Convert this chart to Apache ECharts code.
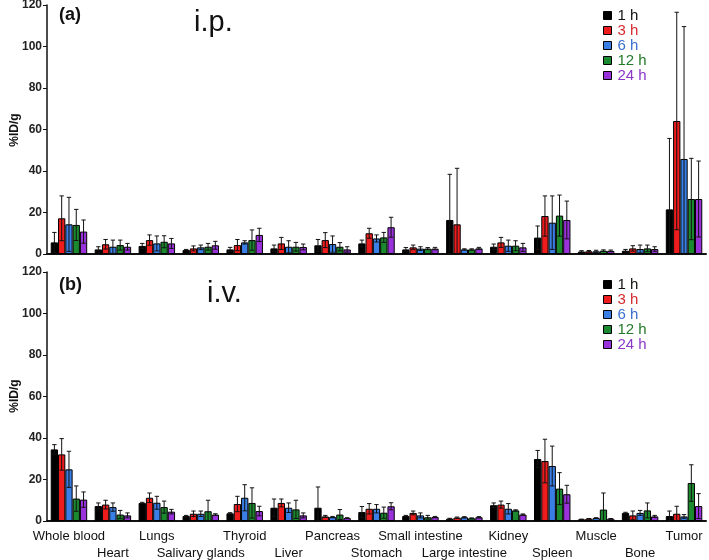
<!DOCTYPE html>
<html><head><meta charset="utf-8">
<script src="https://cdn.jsdelivr.net/npm/echarts@6/dist/echarts.min.js"></script>
<style>html,body{margin:0;padding:0;background:#fff}#c{width:709px;height:560px}</style>
</head><body><div id="c"></div>
<script>
const categories = ['Whole blood','Heart','Lungs','Salivary glands','Thyroid','Liver','Pancreas','Stomach','Small intestine','Large intestine','Kidney','Spleen','Muscle','Bone','Tumor'];
const seriesNames = ['1 h','3 h','6 h','12 h','24 h'];
const yTicks = [0,20,40,60,80,100,120];

const ip1h  = [5.6,2.2,3.9,1.9,2.2,2.7,4.2,5.1,2.2,16.4,3.5,7.9,1.2,1.6,21.5];
const ip3h  = [17.2,4.7,6.7,2.7,4.3,5.1,6.7,10,3.2,14.3,5.6,18.3,1.3,2.7,64.1];
const ip6h  = [14.3,3.5,5.1,3.2,5.6,3.5,4.8,7.5,2.6,2.2,4,15.1,1.3,2.4,45.8];
const ip12h = [14,4.3,5.9,3.5,6.7,3.5,3.5,8,2.6,2.2,4,18.5,1.6,2.7,26.5];
const ip24h = [10.8,3.5,5.1,4.2,9.2,3.4,2.2,12.9,2.6,2.7,3.2,16.4,1.5,2.4,26.5];
const ipSd1h  = [4.8,1.3,1.2,0.3,1,1.6,2.8,1.6,0.9,22,1.3,5.6,0.4,0.6,34.2];
const ipSd3h  = [10.8,2.3,2.5,1.2,2.7,2.9,3.6,2.4,1.1,27,2.4,9.7,0.4,1.3,52.4];
const ipSd6h  = [13,3.2,3.6,1.1,0.8,2.9,3.9,1.7,0.9,0.3,2.7,12.9,0.5,1.9,63.8];
const ipSd12h = [7.5,2.4,2.9,1.6,4.9,2.1,2,2.4,0.5,0.3,2.4,9.9,0.4,1.6,19.6];
const ipSd24h = [5.6,1.6,2.4,1.9,3.2,1.4,1.3,4.8,0.6,0.5,1.9,9.1,0.4,1.1,18.3];

const iv1h  = [34.5,7.2,8.7,2.4,3.7,6.4,6.4,4.3,2.4,1.1,7.6,29.9,0.8,3.9,2.4];
const iv3h  = [32.1,7.9,11.2,3.5,8.2,8.7,2.2,5.9,3.9,1.6,7.9,28.9,1.1,2.7,3.5];
const iv6h  = [24.9,6.7,8.8,3.5,11.2,6.4,1.9,5.9,2.7,1.8,5.9,26.5,1.4,3.9,2.2];
const iv12h = [10.8,3.1,6.7,4.7,8.7,5.6,3.1,4,1.8,1.3,5.1,15.6,5.5,5.1,18.3];
const iv24h = [10.3,2.7,4.5,3.1,4.8,2.7,1.4,7.1,1.9,1.8,3.1,12.9,1.1,2.2,7.2];
const ivSd1h  = [2.3,1.5,0.3,0.3,0.3,4.2,10,2.7,0.3,0.2,1.1,4.1,0.1,0.3,2.4];
const ivSd3h  = [7.6,2.1,2.3,1.3,3.7,1.9,0.5,2.5,0.9,0.3,1.7,10.5,0.1,2.1,3.6];
const ivSd6h  = [8.7,2,3.1,1.3,6.3,2.3,0.3,2,1.2,0.3,2.5,9.6,0.2,1.2,0.9];
const ivSd12h = [6.1,2,2.9,5.3,7.3,4.4,2.4,2.7,0.9,0.2,0.3,7.7,8,3.6,8.8];
const ivSd24h = [3.7,1.2,1.1,0.4,2.3,1.2,0.2,1.7,0.3,0.3,0.3,4.3,0.1,0.5,6];

const barColors = ['#000000','#ee1c1c','#3a7fe6','#1b8a2e','#9a32dc'];
const textColors = ['#111111','#d42a2e','#3a6fd2','#227a28','#8a38c8'];

const ipMeans = [ip1h, ip3h, ip6h, ip12h, ip24h];
const ipSds = [ipSd1h, ipSd3h, ipSd6h, ipSd12h, ipSd24h];
const ivMeans = [iv1h, iv3h, iv6h, iv12h, iv24h];
const ivSds = [ivSd1h, ivSd3h, ivSd6h, ivSd12h, ivSd24h];

const GAP = 0.17;
const FONT = 'Liberation Sans, Arial, sans-serif';

function errSeries(means, sds, si, axisIdx) {
  return {
    type: 'custom', xAxisIndex: axisIdx, yAxisIndex: axisIdx, z: 10, silent: true,
    data: means.map((m, i) => [i, m, sds[i]]),
    encode: { x: 0, y: 1 },
    renderItem: function (params, api) {
      const ci = api.value(0), m = api.value(1), sd = api.value(2);
      const band = api.size([1, 0])[0];
      const bw = band * (1 - GAP) / 5;
      const c = api.coord([ci, m]);
      const x = c[0] + (si - 2) * bw;
      const top = api.coord([ci, m + sd])[1];
      const bot = api.coord([ci, Math.max(0, m - sd)])[1];
      const cap = bw * 0.3;
      const st = { stroke: '#111', lineWidth: 1 };
      return { type: 'group', children: [
        { type: 'line', shape: { x1: x, y1: top, x2: x, y2: bot }, style: st },
        { type: 'line', shape: { x1: x - cap, y1: top, x2: x + cap, y2: top }, style: st },
        { type: 'line', shape: { x1: x - cap, y1: bot, x2: x + cap, y2: bot }, style: st }
      ]};
    }
  };
}

const series = [];
[[ipMeans, ipSds, 0], [ivMeans, ivSds, 1]].forEach(([means, sds, ax]) => {
  means.forEach((arr, si) => {
    series.push({
      type: 'bar', name: seriesNames[si], xAxisIndex: ax, yAxisIndex: ax,
      data: arr, barGap: '0%', barCategoryGap: (GAP * 100) + '%',
      itemStyle: { color: barColors[si], borderColor: '#000', borderWidth: 1 }
    });
  });
  means.forEach((arr, si) => series.push(errSeries(arr, sds[si], si, ax)));
});

function yAxis(idx) {
  return {
    gridIndex: idx, type: 'value', min: 0, max: 120, interval: 20,
    axisLine: { show: true, lineStyle: { color: '#111', width: 1.5 } },
    axisTick: { show: true, length: 4, lineStyle: { color: '#111', width: 1 } },
    axisLabel: { fontFamily: FONT, fontWeight: 'bold', fontSize: 12, color: '#222', margin: 5,
      formatter: v => yTicks.includes(v) ? String(v) : '' },
    splitLine: { show: false }
  };
}
function xAxis(idx, showLabels) {
  return {
    gridIndex: idx, type: 'category', data: categories,
    axisLine: { show: true, lineStyle: { color: '#111', width: 2 } },
    axisTick: { show: false },
    axisLabel: showLabels ? {
      interval: 0, fontFamily: FONT, fontSize: 13, color: '#111', margin: 7, lineHeight: 17,
      formatter: (v, i) => (i % 2 === 1 ? '\n' + v : v)
    } : { show: false }
  };
}
function legend(top) {
  return {
    orient: 'vertical', left: 603, top: top, padding: 0, itemWidth: 8, itemHeight: 8, itemGap: 0,
    icon: 'rect', selectedMode: false,
    data: seriesNames.map((n, i) => ({ name: n, textStyle: { color: textColors[i] } })),
    textStyle: { fontFamily: FONT, fontSize: 15, lineHeight: 14.6, padding: [0, 0, 0, 1] },
    itemStyle: { borderColor: '#000', borderWidth: 1 }
  };
}
function yName(cy) {
  return { type: 'text', x: 15, y: cy, rotation: Math.PI / 2,
    style: { text: '%ID/g', fontFamily: FONT, fontWeight: 'bold', fontSize: 12, fill: '#111',
      align: 'center', verticalAlign: 'middle' } };
}

const chart = echarts.init(document.getElementById('c'), null, { renderer: 'canvas' });
chart.setOption({
  animation: false,
  backgroundColor: '#fff',
  grid: [
    { left: 47, right: 3, top: 5, height: 249, outerBoundsMode: 'none', containLabel: false },
    { left: 47, right: 3, top: 272, height: 249, outerBoundsMode: 'none', containLabel: false }
  ],
  xAxis: [xAxis(0, false), xAxis(1, true)],
  yAxis: [yAxis(0), yAxis(1)],
  legend: [legend(8), legend(277)],
  graphic: [
    yName(130), yName(396),
    { type: 'text', left: 59, top: 6, style: { text: '(a)', fontFamily: FONT, fontWeight: 'bold', fontSize: 18, fill: '#111' } },
    { type: 'text', left: 194, top: 8, style: { text: 'i.p.', fontFamily: FONT, fontSize: 29, fill: '#111' } },
    { type: 'text', left: 59, top: 276, style: { text: '(b)', fontFamily: FONT, fontWeight: 'bold', fontSize: 18, fill: '#111' } },
    { type: 'text', left: 207, top: 279, style: { text: 'i.v.', fontFamily: FONT, fontSize: 29, fill: '#111' } }
  ],
  series: series
});
</script></body></html>
